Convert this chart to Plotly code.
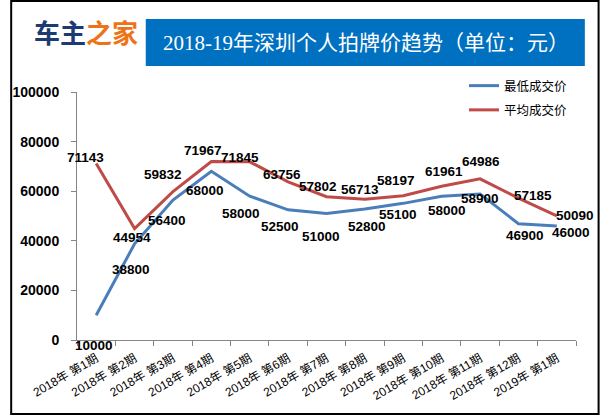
import plotly.graph_objects as go

categories = ["2018年 第1期", "2018年 第2期", "2018年 第3期", "2018年 第4期", "2018年 第5期",
              "2018年 第6期", "2018年 第7期", "2018年 第8期", "2018年 第9期", "2018年 第10期",
              "2018年 第11期", "2018年 第12期", "2019年 第1期"]
lowest = [10000, 38800, 56400, 68000, 58000, 52500, 51000, 52800, 55100, 58000, 58900, 46900, 46000]
average = [71143, 44954, 59832, 71967, 71845, 63756, 57802, 56713, 58197, 61961, 64986, 57185, 50090]
y_ticks = [0, 20000, 40000, 60000, 80000, 100000]

# label offsets in pixels (dx right, dy down) — styling only
avg_offsets = [(-11, -6), (-3, 9), (-10, -17), (-8, -11), (-10, -4), (-6, -7), (-9, -10),
               (-5, -10), (-7, -15), (2, -15), (1, -17), (15, -3), (18, 0)]
low_offsets = [(-2, 30), (-4, 26), (-6, 20), (-6, 19), (-9, 17), (-8, 17), (-6, 23),
               (2, 17), (-5, 11), (5, 14), (0, 5), (7, 12), (14, 7)]

W, H = 600, 415
ML, MR, MT, MB = 68, 24, 92, 75
PW, PH = W - ML - MR, H - MT - MB

def px(x):
    return (x - ML) / PW

def py(y):
    return (H - MB - y) / PH

BLUE = "#4A7EBB"
RED = "#BE4B48"
NUMFONT = "Liberation Sans, Arial"

fig = go.Figure()
fig.add_trace(go.Scatter(x=categories, y=lowest, mode="lines", name="最低成交价",
                         line=dict(color=BLUE, width=3), legendgroup="a"))
fig.add_trace(go.Scatter(x=categories, y=average, mode="lines", name="平均成交价",
                         line=dict(color=RED, width=3), legendgroup="b"))

annotations = []
for series, offs in ((average, avg_offsets), (lowest, low_offsets)):
    for c, v, (dx, dy) in zip(categories, series, offs):
        annotations.append(dict(x=c, y=v, xref="x", yref="y", text=str(v), showarrow=False,
                                xshift=dx, yshift=-dy,
                                font=dict(family=NUMFONT, size=13.5, color="black", weight="bold")))

# logo
annotations.append(dict(x=px(22), y=py(31), xref="paper", yref="paper", xanchor="left", yanchor="middle",
                        text="<b><span style='color:#1D3B72'>车主</span><span style='color:#EE7318'>之家</span></b>",
                        showarrow=False, font=dict(family="Noto Sans CJK SC", size=26)))
# title
annotations.append(dict(x=px(362), y=py(43), xref="paper", yref="paper", xanchor="center", yanchor="middle",
                        text="2018-19年深圳个人拍牌价趋势（单位：元）", showarrow=False,
                        font=dict(family="Liberation Serif, Noto Sans CJK SC", size=21, color="white")))

shapes = [
    dict(type="rect", xref="paper", yref="paper", x0=px(138), x1=px(585), y0=py(19), y1=py(66),
         fillcolor="#0070C0", line=dict(width=0), layer="below"),
    dict(type="rect", xref="paper", yref="paper", x0=px(1), x1=px(599), y0=py(1), y1=py(414),
         line=dict(color="black", width=2), fillcolor="rgba(0,0,0,0)"),
]

fig.update_layout(
    width=W, height=H,
    margin=dict(l=ML, r=MR, t=MT, b=MB, pad=0),
    paper_bgcolor="white", plot_bgcolor="white",
    showlegend=True,
    legend=dict(x=px(462), y=py(71), xanchor="left", yanchor="top",
                font=dict(family="Noto Sans CJK SC", size=12.5, color="black"),
                bgcolor="rgba(0,0,0,0)", tracegroupgap=5, itemwidth=30),
    annotations=annotations,
    shapes=shapes,
    xaxis=dict(type="category", range=[-0.5, 12.5], tickangle=-30, tickson="boundaries",
               ticks="outside", ticklen=5, tickcolor="#868686", showline=True, linecolor="#868686",
               linewidth=1, showgrid=False, zeroline=False, ticklabelstandoff=6,
               tickfont=dict(family="Liberation Sans, Noto Sans CJK SC", size=12, color="black")),
    yaxis=dict(range=[0, 100000], tickvals=y_ticks, ticktext=[str(t) for t in y_ticks],
               ticks="outside", ticklen=5, tickcolor="#868686", showline=True, linecolor="#868686",
               linewidth=1, showgrid=False, zeroline=False, ticklabelstandoff=9,
               tickfont=dict(family=NUMFONT, size=14, color="black", weight="bold")),
)

fig.write_html("out.html", config={"displayModeBar": False},
               post_script="document.body.style.margin='0';document.body.style.overflow='hidden';")
